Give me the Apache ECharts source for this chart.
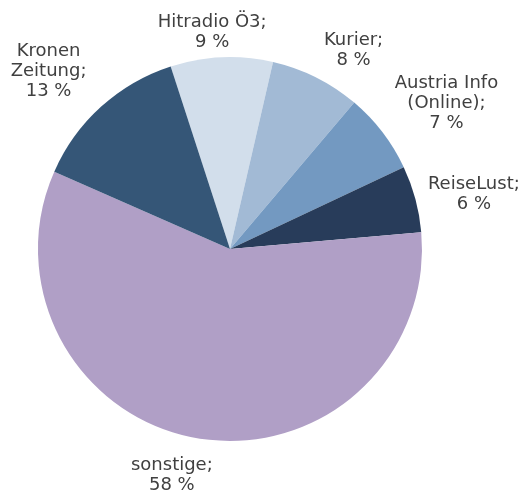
<!DOCTYPE html>
<html>
<head>
<meta charset="utf-8">
<script src="https://cdn.jsdelivr.net/npm/echarts@6/dist/echarts.min.js"></script>
<style>
  html, body { margin: 0; padding: 0; background: #fff; }
  #main { width: 524px; height: 494px; }
</style>
</head>
<body>
<div id="main"></div>
<script>
// Anteile in %, im Uhrzeigersinn ab Hitradio
var names = ['Hitradio Ö3', 'Kurier', 'Austria Info\n(Online)', 'ReiseLust', 'sonstige', 'Kronen\nZeitung']
var values = [8.6, 7.6, 6.8, 5.6, 58.0, 13.4]
var colors = ['#d2deeb', '#a2bad5', '#7399c1', '#283c5a', '#b09fc6', '#355677']

// layout
var cx = 230
var cy = 249
var radius = 192
var startAngle = 108
var labelGap = 10
// small hand nudges so the labels sit where the original ones do
var labelNudge = [[-8, 7], [19, 10], [9, 13], [1, 11], [-21, 1], [-14, 8]]

var total = 0
for (var i = 0; i < values.length; i++) total += values[i]

var pieData = []
for (var i = 0; i < values.length; i++) {
  pieData.push({ name: names[i], value: values[i], itemStyle: { color: colors[i] } })
}

// label sits just outside the slice, centred on the slice's middle ray
function placeLabel(p) {
  var k = p.dataIndex
  var before = 0
  for (var i = 0; i < k; i++) before += values[i]
  var a = -startAngle * Math.PI / 180 + (before + values[k] / 2) / total * 2 * Math.PI
  var w = p.labelRect.width
  var h = p.labelRect.height
  var d = radius + labelGap + Math.abs(Math.cos(a)) * w / 2 + Math.abs(Math.sin(a)) * h / 2
  return {
    x: cx + d * Math.cos(a) + labelNudge[k][0],
    y: cy + d * Math.sin(a) + labelNudge[k][1],
    align: 'center',
    verticalAlign: 'middle'
  }
}

var chart = echarts.init(document.getElementById('main'))
chart.setOption({
  animation: false,
  series: [
    {
      type: 'pie',
      center: [cx, cy],
      radius: radius,
      startAngle: startAngle,
      clockwise: true,
      avoidLabelOverlap: false,
      data: pieData,
      itemStyle: { borderWidth: 0 },
      label: {
        show: true,
        position: 'inside',
        color: '#404040',
        fontFamily: 'DejaVu Sans',
        fontSize: 18,
        lineHeight: 20,
        align: 'center',
        formatter: function (p) {
          return p.name + ';\n' + Math.round(p.percent) + ' %'
        }
      },
      labelLine: { show: false },
      labelLayout: placeLabel,
      emphasis: { disabled: true }
    }
  ]
})
</script>
</body>
</html>
